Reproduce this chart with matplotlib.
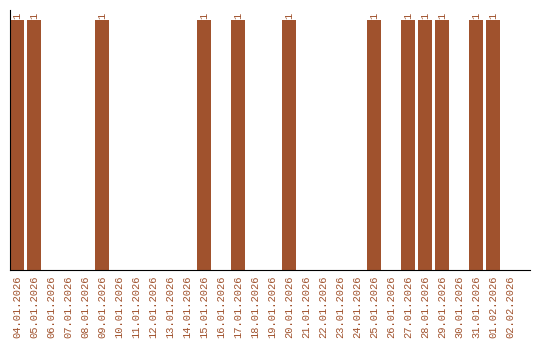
import matplotlib as mpl
mpl.use('Agg')
import matplotlib.pyplot as plt
from datetime import date, timedelta

# daily counts, 04.01.2026 - 02.02.2026
start = date(2026, 1, 4)
dates = [(start + timedelta(days=i)).strftime('%d.%m.%Y') for i in range(30)]
counts = [1, 1, 0, 0, 0, 1, 0, 0, 0, 0,
          0, 1, 0, 1, 0, 0, 1, 0, 0, 0,
          0, 1, 0, 1, 1, 1, 0, 1, 1, 0]

color = '#A0522D'
plt.rcParams['font.family'] = ['Liberation Mono', 'DejaVu Sans Mono']

fig = plt.figure(figsize=(5.4, 3.4), dpi=100)
ax = fig.add_axes([10 / 540, 70 / 340, 520 / 540, 260 / 340])

x = list(range(len(dates)))
bars = ax.bar(x, counts, width=0.82, color=color)
for b, v in zip(bars, counts):
    if v:
        ax.text(b.get_x() + b.get_width() / 2, v + 0.005, str(v),
                rotation=90, ha='center', va='bottom', color=color, fontsize=7.5)

ax.set_xlim(-0.41, 30.17)
ax.set_ylim(0, 1.04)
ax.set_xticks(x)
ax.set_xticklabels(dates, rotation=90, color=color, fontsize=7.5)
ax.tick_params(axis='x', length=0, pad=4)
ax.set_yticks([])
for s in ('top', 'right'):
    ax.spines[s].set_visible(False)
ax.spines['left'].set_color('black')
ax.spines['bottom'].set_color('black')

plt.savefig('out.png', dpi=100)
plt.close()
